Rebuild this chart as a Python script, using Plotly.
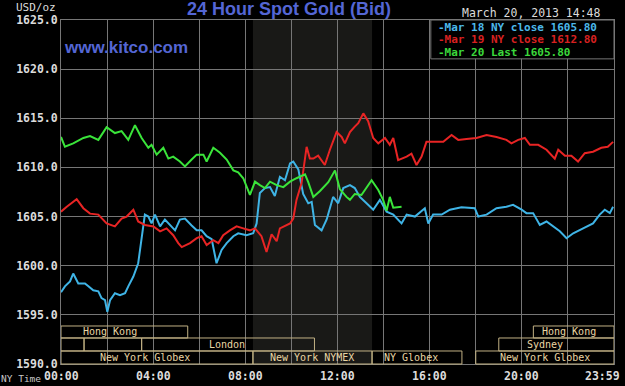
import plotly.graph_objects as go

# ---- data (hours since 00:00 NY time, USD/oz) ----
mar18_t = [0.00,0.03,0.17,0.39,0.53,0.75,1.04,1.19,1.40,1.62,1.76,1.91,2.01,2.13,2.34,2.56,2.78,2.92,3.14,3.35,3.50,3.64,3.79,3.93,4.08,4.30,4.51,4.73,4.95,5.16,5.38,5.67,5.89,6.10,6.32,6.54,6.75,6.97,7.19,7.48,7.69,8.05,8.34,8.49,8.63,8.85,9.07,9.28,9.50,9.72,9.94,10.08,10.30,10.51,10.73,10.88,11.02,11.31,11.53,11.81,12.03,12.25,12.54,12.75,12.97,13.26,13.55,13.84,14.13,14.42,14.78,15.00,15.36,15.79,15.94,16.15,16.52,16.88,17.38,17.96,18.11,18.47,18.90,19.33,19.62,19.99,20.20,20.49,20.78,21.07,21.36,21.65,21.94,22.23,22.66,23.09,23.38,23.60,23.82,23.96]
mar18_p = [1597.3,1597.4,1597.9,1598.4,1599.2,1598.2,1598.2,1597.9,1597.5,1597.4,1596.7,1596.5,1595.3,1596.5,1597.2,1597.0,1597.2,1597.9,1598.9,1600.25,1602.6,1605.2,1605.0,1604.3,1605.2,1604.0,1604.7,1604.1,1603.6,1604.7,1604.8,1604.1,1603.6,1603.6,1603.0,1602.7,1600.25,1601.6,1602.3,1603.0,1603.3,1603.1,1603.3,1604.3,1607.4,1607.9,1608.0,1607.1,1609.05,1608.7,1610.4,1610.6,1609.8,1607.3,1606.35,1606.5,1604.15,1603.6,1604.7,1607.0,1606.35,1607.9,1608.2,1607.9,1607.0,1606.35,1605.7,1606.7,1605.5,1605.2,1604.3,1605.2,1605.0,1605.85,1604.3,1605.2,1605.2,1605.7,1605.95,1605.85,1605.0,1605.2,1605.85,1606.0,1606.2,1605.7,1605.35,1605.35,1604.15,1604.5,1604.0,1603.5,1602.8,1603.3,1603.8,1604.3,1605.2,1605.7,1605.35,1606.0]

mar19_t = [0.00,0.25,0.68,0.97,1.26,1.62,1.98,2.34,2.63,2.85,3.14,3.35,3.64,4.01,4.30,4.58,4.87,5.09,5.24,5.60,5.89,6.10,6.32,6.61,6.83,7.04,7.33,7.62,7.91,8.20,8.42,8.70,8.92,9.14,9.36,9.50,9.94,10.08,10.22,10.44,10.66,10.80,10.95,11.09,11.16,11.45,11.67,11.96,12.18,12.32,12.54,12.75,12.90,13.12,13.33,13.55,13.77,14.06,14.27,14.42,14.63,15.00,15.21,15.43,15.65,15.86,16.15,16.59,16.95,17.24,17.60,18.03,18.47,18.90,19.33,19.55,19.84,20.13,20.35,20.71,21.07,21.43,21.58,21.87,22.15,22.44,22.73,23.09,23.45,23.73,23.96]
mar19_p = [1605.5,1606.0,1606.76,1605.85,1605.3,1605.2,1604.3,1604.0,1604.8,1605.0,1605.7,1604.5,1604.15,1604.0,1603.5,1603.8,1603.1,1602.3,1601.9,1602.3,1602.8,1603.0,1602.1,1602.6,1602.3,1603.1,1603.6,1604.0,1603.8,1603.6,1603.8,1603.0,1601.4,1603.2,1602.5,1603.8,1604.3,1604.8,1606.7,1608.4,1612.1,1610.9,1610.9,1611.1,1611.2,1610.25,1611.8,1613.6,1613.1,1612.45,1613.6,1614.15,1614.5,1615.5,1614.7,1613.0,1612.45,1613.0,1612.3,1613.0,1610.75,1611.1,1611.4,1610.25,1611.1,1612.6,1612.6,1612.6,1613.3,1612.8,1612.9,1613.0,1613.3,1613.1,1612.8,1612.45,1612.8,1613.0,1612.3,1612.3,1611.8,1610.9,1611.8,1611.2,1611.2,1610.6,1611.45,1611.6,1612.0,1612.1,1612.6]

mar20_t = [0.00,0.03,0.17,0.53,0.97,1.26,1.62,1.98,2.34,2.63,2.92,3.21,3.50,3.79,3.93,4.15,4.44,4.66,4.87,5.16,5.38,5.67,5.89,6.18,6.32,6.61,6.90,7.19,7.48,7.69,7.91,8.20,8.42,8.63,8.85,9.07,9.36,9.65,9.94,10.22,10.51,10.59,10.73,10.95,11.24,11.60,11.89,12.10,12.39,12.54,12.75,13.04,13.48,13.77,13.98,14.13,14.27,14.42,14.78]
mar20_p = [1613.1,1612.9,1612.1,1612.45,1613.0,1613.2,1612.8,1614.1,1613.5,1613.7,1612.8,1614.3,1613.0,1612.0,1612.3,1611.3,1612.0,1610.9,1611.1,1610.6,1610.1,1610.8,1611.3,1611.3,1610.6,1612.0,1611.5,1610.8,1609.7,1609.5,1608.9,1607.2,1608.55,1608.2,1607.9,1608.55,1608.2,1608.0,1608.55,1608.9,1609.2,1609.3,1608.5,1607.0,1607.6,1608.5,1609.7,1607.8,1607.0,1606.7,1607.3,1607.2,1608.7,1607.7,1606.7,1605.6,1607.0,1605.9,1606.0]

series_names = ["Mar 18 NY close 1605.80", "Mar 19 NY close 1612.80", "Mar 20 Last 1605.80"]

x_tick_hours = [0, 4, 8, 12, 16, 20, 23.51]
x_tick_labels = ["00:00", "04:00", "08:00", "12:00", "16:00", "20:00", "23:59"]

# market sessions: (label, start hour, end hour, row, label position hour)
sessions = [
    ("Hong Kong", 0.0, 5.5, 1, 2.13),
    ("", 0.0, 1.0, 2, None),
    ("", 1.0, 3.5, 2, None),
    ("London", 3.5, 11.0, 2, 7.2),
    ("New York Globex", 0.0, 8.33, 3, 3.64),
    ("New York NYMEX", 8.33, 13.5, 3, 10.9),
    ("NY Globex", 13.5, 17.4, 3, 15.2),
    ("New York Globex", 18.0, 24.0, 3, 21.0),
    ("Sydney", 19.0, 24.0, 2, 21.0),
    ("Hong Kong", 20.5, 24.0, 1, 22.06),
]
nymex_hours = (8.33, 13.5)

# ---- styling ----
colors = ["#3fb4e6", "#e82424", "#3ae43a"]
text_colors = ["#4cb8ea", "#d82020", "#3cd83c"]
grid = "#767676"
mono = "DejaVu Sans Mono"
tan = "#c2b284"
tan_text = "#ead6a4"
label_col = "#dcdcdc"

fig = go.Figure()
for t, p, c, n in zip([mar18_t, mar19_t, mar20_t], [mar18_p, mar19_p, mar20_p], colors, series_names):
    fig.add_trace(go.Scatter(x=t, y=p, mode="lines", line=dict(color=c, width=2), name=n, showlegend=False))

shapes = []
shapes.append(dict(type="rect", xref="x", yref="paper", x0=nymex_hours[0], x1=nymex_hours[1], y0=0, y1=1,
                   fillcolor="#191917", line=dict(width=0), layer="below"))
row_bounds = {1: (0.0756, 0.1105), 2: (0.0378, 0.0756), 3: (0.0, 0.0378)}
annotations = []
for label, s, e, row, lp in sessions:
    y0, y1 = row_bounds[row]
    shapes.append(dict(type="rect", xref="x", yref="paper", x0=s, x1=e, y0=y0, y1=y1,
                       line=dict(color=tan, width=1), fillcolor="rgba(0,0,0,0)", layer="above"))
    if label:
        annotations.append(dict(x=lp, y=(y0 + y1) / 2, xref="x", yref="paper", text=label, showarrow=False,
                                font=dict(family=mono, size=10, color=tan_text), xanchor="center", yanchor="middle"))

# legend box
shapes.append(dict(type="rect", xref="x", yref="paper", x0=16.05, x1=24.0, y0=0.887, y1=1.0,
                   fillcolor="#000000", line=dict(color=grid, width=1), layer="above"))
for i, (n, tc) in enumerate(zip(series_names, text_colors)):
    annotations.append(dict(x=16.05, y=1.0, xref="x", yref="paper", text="<b>-" + n + "</b>", showarrow=False,
                            xanchor="left", yanchor="middle", xshift=5, yshift=-7 - 12.7 * i,
                            font=dict(family=mono, size=11, color=tc)))

for h, lab in zip(x_tick_hours, x_tick_labels):
    annotations.append(dict(x=h, y=0, xref="x", yref="paper", text="<b>" + lab + "</b>", showarrow=False,
                            xanchor="center", yanchor="middle", yshift=-12,
                            font=dict(family=mono, size=11.5, color=label_col)))

annotations += [
    dict(x=0, y=1, xref="paper", yref="paper", text="USD/oz", showarrow=False, xanchor="left", yanchor="middle",
         xshift=-47, yshift=13, font=dict(family=mono, size=11, color=label_col)),
    dict(x=0, y=0, xref="paper", yref="paper", text="NY Time", showarrow=False, xanchor="left", yanchor="middle",
         xshift=-62, yshift=-14, font=dict(family=mono, size=9.5, color="#c8c8c8")),
    dict(x=0.412, y=1, xref="paper", yref="paper", text="<b>24 Hour Spot Gold (Bid)</b>", showarrow=False,
         xanchor="center", yanchor="middle", yshift=11, font=dict(family="Liberation Sans", size=18, color="#5466d4")),
    dict(x=0, y=1, xref="paper", yref="paper", text="<b>www.kitco.com</b>", showarrow=False,
         xanchor="left", yanchor="middle", xshift=1, yshift=-27, font=dict(family="Liberation Sans", size=17, color="#5466d4")),
    dict(x=1, y=1, xref="paper", yref="paper", text="March 20, 2013 14:48", showarrow=False,
         xanchor="right", yanchor="middle", xshift=-11, yshift=7, font=dict(family=mono, size=11.5, color=label_col)),
]

fig.update_layout(
    width=625, height=386,
    margin=dict(l=61, r=11, t=20, b=22),
    paper_bgcolor="#000000", plot_bgcolor="#000000",
    shapes=shapes, annotations=annotations,
    showlegend=False,
)
fig.update_xaxes(range=[0, 24], tick0=0, dtick=2, showticklabels=False, showgrid=True, gridcolor=grid,
                 gridwidth=1, zeroline=False, showline=True, linecolor=grid, mirror=True, ticks="")
fig.update_yaxes(range=[1590, 1625], tick0=1590, dtick=5, tickformat=".1f", showgrid=True, gridcolor=grid,
                 zeroline=False, showline=True, linecolor=grid, mirror=True, ticks="",
                 tickfont=dict(family=mono, size=11.5, color=label_col, weight="bold"))

fig.write_html("out.html")
